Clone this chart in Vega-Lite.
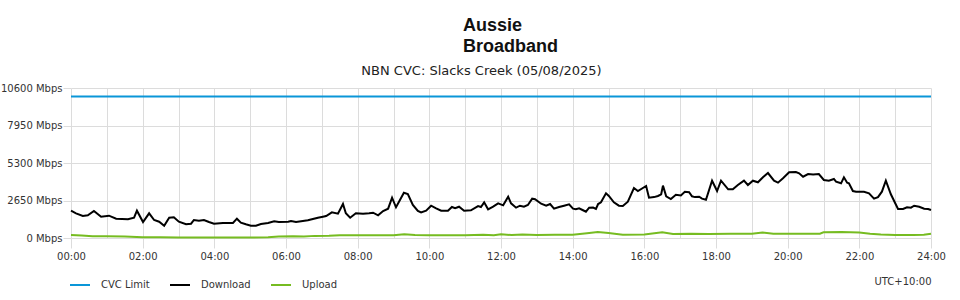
{
  "$schema": "https://vega.github.io/schema/vega-lite/v6.json",
  "width": 860,
  "height": 150,
  "padding": {"left": 0, "top": 17, "right": 30, "bottom": 5},
  "background": "white",
  "config": {"view": {"stroke": null}, "font": "DejaVu Sans"},
  "title": {
    "text": ["Aussie", "Broadband"],
    "anchor": "start",
    "align": "left",
    "frame": "group",
    "dx": 392,
    "font": "Liberation Sans",
    "fontSize": 18,
    "fontWeight": "bold",
    "color": "#111111",
    "lineHeight": 21,
    "offset": 8
  },
  "encoding": {
    "x": {
      "field": "h",
      "type": "quantitative",
      "scale": {"domain": [0, 24], "nice": false, "zero": false},
      "axis": {
        "values": [0,1,2,3,4,5,6,7,8,9,10,11,12,13,14,15,16,17,18,19,20,21,22,23,24],
        "labelExpr": "datum.value % 2 ? '' : (datum.value < 10 ? '0' : '') + datum.value + ':00'",
        "labelFlush": false,
        "labelOverlap": false,
        "grid": true,
        "gridColor": "#dcdcdc",
        "domain": false,
        "tickSize": 10,
        "tickColor": {"condition": {"test": "datum.value % 2 == 1", "value": "transparent"}, "value": "#dcdcdc"},
        "labelPadding": 3,
        "labelFontSize": 10,
        "labelColor": "#333333",
        "title": "UTC+10:00",
        "titleAnchor": "end",
        "titleFontWeight": "normal",
        "titleFontSize": 10,
        "titleColor": "#333333",
        "titlePadding": 15
      }
    },
    "y": {
      "field": "v",
      "type": "quantitative",
      "scale": {"domain": [0, 10600], "nice": false},
      "axis": {
        "values": [0, 2650, 5300, 7950, 10600],
        "labelExpr": "datum.value + ' Mbps'",
        "grid": true,
        "gridColor": "#dcdcdc",
        "domain": false,
        "tickSize": 8,
        "tickColor": "#dcdcdc",
        "labelPadding": 1,
        "labelFontSize": 10,
        "labelColor": "#333333",
        "title": "NBN CVC: Slacks Creek (05/08/2025)",
        "titleAngle": 0,
        "titleX": 410,
        "titleY": -14,
        "titleAlign": "center",
        "titleBaseline": "alphabetic",
        "titleFont": "DejaVu Sans",
        "titleFontSize": 13,
        "titleFontWeight": "normal",
        "titleColor": "#222222"
      }
    }
  },
  "layer": [
    {
      "data": {"values": [{"h": 0, "v": 10000}, {"h": 24, "v": 10000}]},
      "mark": {"type": "line", "strokeWidth": 2},
      "encoding": {
        "color": {
          "datum": "CVC Limit",
          "scale": {"domain": ["CVC Limit", "Download", "Upload"], "range": ["#0a96d8", "#000000", "#76bc21"]},
          "legend": {
            "title": null,
            "orient": "none",
            "legendX": -2,
            "legendY": 186,
            "direction": "horizontal",
            "symbolType": "stroke",
            "symbolSize": 400,
            "symbolStrokeWidth": 2,
            "labelOffset": 10,
            "columnPadding": 16,
            "labelFontSize": 10,
            "labelColor": "#333333",
            "labelFont": "DejaVu Sans"
          }
        }
      }
    },
    {
      "data": {"values": [
        {"h":0,"v":1930},{"h":0.14,"v":1745},{"h":0.33,"v":1555},{"h":0.47,"v":1600},{"h":0.64,"v":1908},{"h":0.84,"v":1505},{"h":1.06,"v":1576},{"h":1.26,"v":1364},{"h":1.59,"v":1320},{"h":1.76,"v":1435},{"h":1.84,"v":1930},{"h":2.01,"v":1130},{"h":2.18,"v":1745},{"h":2.32,"v":1272},{"h":2.46,"v":1152},{"h":2.6,"v":870},{"h":2.74,"v":1435},{"h":2.87,"v":1460},{"h":3.01,"v":1152},{"h":3.21,"v":968},{"h":3.35,"v":1010},{"h":3.43,"v":1272},{"h":3.57,"v":1222},{"h":3.71,"v":1272},{"h":3.85,"v":1130},{"h":3.99,"v":1010},{"h":4.24,"v":1060},{"h":4.52,"v":1060},{"h":4.63,"v":1364},{"h":4.74,"v":1080},{"h":4.88,"v":968},{"h":5.02,"v":870},{"h":5.16,"v":870},{"h":5.3,"v":990},{"h":5.5,"v":1060},{"h":5.67,"v":1180},{"h":5.8,"v":1130},{"h":6.06,"v":1152},{"h":6.14,"v":1200},{"h":6.28,"v":1130},{"h":6.47,"v":1200},{"h":6.61,"v":1250},{"h":6.75,"v":1343},{"h":6.89,"v":1435},{"h":7.03,"v":1505},{"h":7.12,"v":1555},{"h":7.28,"v":1816},{"h":7.45,"v":1717},{"h":7.59,"v":2403},{"h":7.67,"v":1745},{"h":7.79,"v":1435},{"h":7.95,"v":1745},{"h":8.15,"v":1717},{"h":8.32,"v":1745},{"h":8.43,"v":1788},{"h":8.57,"v":1604},{"h":8.71,"v":1908},{"h":8.85,"v":2070},{"h":8.96,"v":2848},{"h":9.07,"v":2170},{"h":9.18,"v":2685},{"h":9.29,"v":3200},{"h":9.4,"v":3110},{"h":9.54,"v":2332},{"h":9.68,"v":1908},{"h":9.77,"v":1800},{"h":9.91,"v":1930},{"h":10.05,"v":2283},{"h":10.19,"v":2100},{"h":10.33,"v":1930},{"h":10.52,"v":1930},{"h":10.63,"v":2190},{"h":10.72,"v":2100},{"h":10.83,"v":2212},{"h":10.97,"v":1930},{"h":11.16,"v":1960},{"h":11.36,"v":2260},{"h":11.44,"v":2190},{"h":11.53,"v":2520},{"h":11.64,"v":2028},{"h":11.78,"v":2212},{"h":11.92,"v":2450},{"h":12.06,"v":2310},{"h":12.2,"v":2920},{"h":12.28,"v":2450},{"h":12.42,"v":2143},{"h":12.53,"v":2283},{"h":12.64,"v":2212},{"h":12.75,"v":2332},{"h":12.87,"v":2780},{"h":12.95,"v":2740},{"h":13.12,"v":2425},{"h":13.26,"v":2283},{"h":13.37,"v":2400},{"h":13.48,"v":2070},{"h":13.62,"v":2190},{"h":13.76,"v":2283},{"h":13.9,"v":2380},{"h":14.01,"v":2070},{"h":14.09,"v":2028},{"h":14.18,"v":2100},{"h":14.29,"v":1960},{"h":14.37,"v":1860},{"h":14.46,"v":2143},{"h":14.57,"v":2150},{"h":14.65,"v":2050},{"h":14.71,"v":2400},{"h":14.79,"v":2520},{"h":14.93,"v":3160},{"h":15.01,"v":2968},{"h":15.15,"v":2520},{"h":15.29,"v":2283},{"h":15.4,"v":2260},{"h":15.54,"v":2565},{"h":15.71,"v":3533},{"h":15.82,"v":3320},{"h":16.05,"v":3675},{"h":16.13,"v":2848},{"h":16.27,"v":2890},{"h":16.38,"v":2968},{"h":16.47,"v":3090},{"h":16.52,"v":3700},{"h":16.61,"v":2940},{"h":16.74,"v":2756},{"h":16.88,"v":3060},{"h":17.02,"v":3010},{"h":17.13,"v":3273},{"h":17.25,"v":3230},{"h":17.33,"v":2945},{"h":17.41,"v":2890},{"h":17.53,"v":2920},{"h":17.61,"v":2780},{"h":17.72,"v":2700},{"h":17.89,"v":4050},{"h":18.03,"v":3320},{"h":18.14,"v":4050},{"h":18.34,"v":3440},{"h":18.47,"v":3440},{"h":18.61,"v":3745},{"h":18.78,"v":4050},{"h":18.89,"v":3745},{"h":19.03,"v":4050},{"h":19.17,"v":3935},{"h":19.31,"v":4290},{"h":19.45,"v":4590},{"h":19.62,"v":4050},{"h":19.73,"v":3910},{"h":19.87,"v":4220},{"h":20.04,"v":4640},{"h":20.23,"v":4660},{"h":20.32,"v":4570},{"h":20.43,"v":4332},{"h":20.57,"v":4520},{"h":20.71,"v":4490},{"h":20.87,"v":4520},{"h":21.01,"v":4100},{"h":21.15,"v":4050},{"h":21.29,"v":4170},{"h":21.35,"v":3980},{"h":21.49,"v":3865},{"h":21.57,"v":4290},{"h":21.66,"v":3910},{"h":21.71,"v":3865},{"h":21.82,"v":3320},{"h":21.91,"v":3273},{"h":22.13,"v":3273},{"h":22.27,"v":3160},{"h":22.41,"v":2780},{"h":22.52,"v":2890},{"h":22.63,"v":3273},{"h":22.74,"v":4050},{"h":22.88,"v":3090},{"h":23.08,"v":2050},{"h":23.22,"v":2050},{"h":23.33,"v":2170},{"h":23.44,"v":2140},{"h":23.53,"v":2283},{"h":23.67,"v":2212},{"h":23.81,"v":2070},{"h":23.92,"v":2050},{"h":24,"v":1980}
      ]},
      "mark": {"type": "line", "strokeWidth": 2},
      "encoding": {"color": {"datum": "Download"}}
    },
    {
      "data": {"values": [
        {"h":0,"v":220},{"h":0.3,"v":170},{"h":0.6,"v":120},{"h":1.0,"v":120},{"h":1.5,"v":110},{"h":2.0,"v":60},{"h":2.5,"v":50},{"h":3.0,"v":40},{"h":3.5,"v":40},{"h":4.0,"v":30},{"h":4.5,"v":30},{"h":5.0,"v":30},{"h":5.5,"v":50},{"h":5.8,"v":100},{"h":6.2,"v":120},{"h":6.5,"v":100},{"h":6.8,"v":150},{"h":7.2,"v":160},{"h":7.5,"v":190},{"h":8.0,"v":200},{"h":8.5,"v":200},{"h":9.0,"v":200},{"h":9.3,"v":260},{"h":9.6,"v":220},{"h":10.0,"v":200},{"h":11.0,"v":200},{"h":11.5,"v":230},{"h":11.8,"v":200},{"h":12.0,"v":260},{"h":12.3,"v":210},{"h":12.6,"v":250},{"h":13.0,"v":220},{"h":13.5,"v":230},{"h":14.0,"v":230},{"h":14.4,"v":330},{"h":14.7,"v":420},{"h":15.0,"v":360},{"h":15.4,"v":230},{"h":16.0,"v":240},{"h":16.5,"v":410},{"h":16.8,"v":280},{"h":17.3,"v":300},{"h":17.8,"v":280},{"h":18.4,"v":300},{"h":19.0,"v":300},{"h":19.3,"v":380},{"h":19.6,"v":300},{"h":20.2,"v":300},{"h":20.9,"v":300},{"h":21.0,"v":400},{"h":21.5,"v":420},{"h":22.0,"v":380},{"h":22.3,"v":300},{"h":22.6,"v":250},{"h":23.0,"v":210},{"h":23.5,"v":210},{"h":23.8,"v":230},{"h":24,"v":300}
      ]},
      "mark": {"type": "line", "strokeWidth": 2},
      "encoding": {"color": {"datum": "Upload"}}
    }
  ]
}
